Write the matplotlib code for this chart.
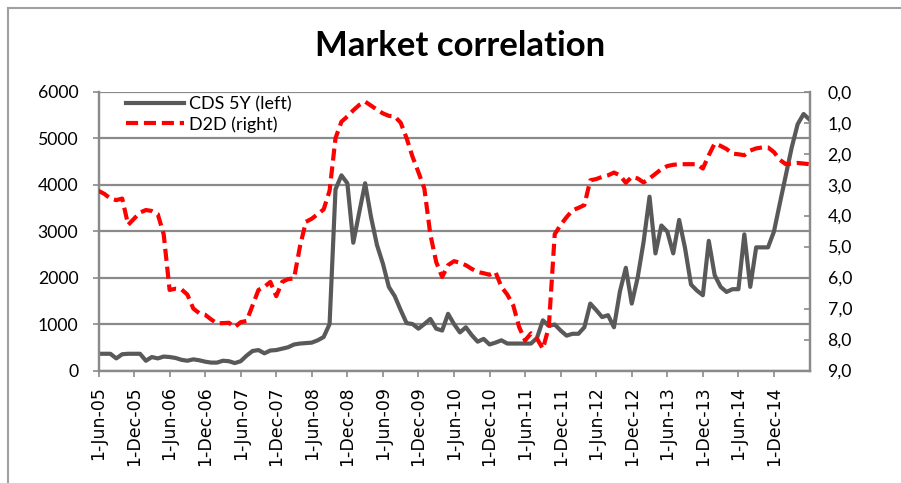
import matplotlib
matplotlib.use("Agg")
import matplotlib.pyplot as plt
import matplotlib.transforms as mtransforms
from matplotlib.lines import Line2D
import numpy as np

# ---------------- data ----------------
# monthly observations starting 1-Jun-05 (index 0) through Jun-15 (index 120)
cds_5y = [360, 360, 360, 260, 350, 360, 360, 360, 210, 290,
          260, 300, 290, 270, 230, 210, 240, 220, 190, 170,
          170, 210, 200, 160, 200, 320, 420, 440, 370, 430,
          440, 470, 500, 560, 580, 590, 600, 650, 720, 1000,
          3900, 4200, 4030, 2750, 3400, 4030, 3300, 2700, 2300, 1800,
          1600, 1300, 1020, 1000, 900, 1000, 1110, 900, 860, 1220,
          1000, 820, 930, 760, 620, 680, 560, 600, 650, 580,
          580, 580, 580, 580, 700, 1080, 960, 990, 860, 750,
          790, 790, 930, 1440, 1300, 1150, 1190, 930, 1700, 2210,
          1440, 2000, 2770, 3740, 2520, 3120, 2990, 2520, 3240, 2630,
          1850, 1720, 1620, 2790, 2050, 1800, 1690, 1750, 1750, 2930,
          1800, 2650, 2650, 2650, 2990, 3600, 4200, 4800, 5300, 5520,
          5400]

d2d = [3.20, 3.30, 3.45, 3.50, 3.45, 4.30, 4.10, 3.90, 3.82, 3.85,
       3.95, 4.60, 6.40, 6.36, 6.38, 6.55, 7.00, 7.15, 7.20, 7.35,
       7.48, 7.47, 7.46, 7.60, 7.44, 7.40, 6.90, 6.40, 6.30, 6.14,
       6.60, 6.14, 6.05, 6.03, 5.00, 4.20, 4.10, 3.95, 3.80, 3.20,
       1.50, 0.97, 0.80, 0.60, 0.43, 0.32, 0.45, 0.58, 0.70, 0.78,
       0.80, 1.00, 1.50, 2.10, 2.60, 3.13, 4.60, 5.50, 5.98, 5.60,
       5.47, 5.52, 5.60, 5.72, 5.82, 5.86, 5.91, 5.82, 6.30, 6.55,
       6.90, 7.60, 8.03, 7.80, 7.97, 8.30, 7.60, 4.60, 4.30, 4.05,
       3.83, 3.75, 3.66, 2.86, 2.82, 2.75, 2.70, 2.61, 2.70, 2.94,
       2.75, 2.80, 2.93, 2.80, 2.65, 2.50, 2.40, 2.36, 2.34, 2.34,
       2.34, 2.34, 2.48, 2.05, 1.67, 1.75, 1.85, 2.00, 2.02, 2.05,
       1.90, 1.83, 1.80, 1.80, 1.95, 2.20, 2.34, 2.32, 2.30, 2.32,
       2.34]

x_tick_labels = ["1-Jun-05", "1-Dec-05", "1-Jun-06", "1-Dec-06", "1-Jun-07",
                 "1-Dec-07", "1-Jun-08", "1-Dec-08", "1-Jun-09", "1-Dec-09",
                 "1-Jun-10", "1-Dec-10", "1-Jun-11", "1-Dec-11", "1-Jun-12",
                 "1-Dec-12", "1-Jun-13", "1-Dec-13", "1-Jun-14", "1-Dec-14"]
left_ticks = [0, 1000, 2000, 3000, 4000, 5000, 6000]
right_ticks = [0, 1, 2, 3, 4, 5, 6, 7, 8, 9]

title = "Market correlation"
label_cds = "CDS 5Y (left)"
label_d2d = "D2D (right)"

# ---------------- figure ----------------
W, H = 901, 483
fig = plt.figure(figsize=(W / 100, H / 100), dpi=100)
fig.patch.set_facecolor("white")

x0, x1, yt, yb = 98.5, 809.5, 91.7, 370.5
ax = fig.add_axes([x0 / W, (H - yb) / H, (x1 - x0) / W, (yb - yt) / H])
ax2 = ax.twinx()

grey = "#8a8a8a"
months = np.arange(len(cds_5y))

l1, = ax.plot(months, cds_5y, color="#595959", lw=3.0, solid_joinstyle="round",
              zorder=3)
l2, = ax2.plot(np.arange(len(d2d)), d2d, color="#ff0000", lw=3.0,
               dash_capstyle="butt", zorder=3)
l2.set_dashes((2.9, 1.4))

ax.set_xlim(0, 120)
ax.set_ylim(0, 6000)
ax2.set_ylim(9, 0)

ax.set_yticks(left_ticks)
ax.set_yticklabels([str(v) for v in left_ticks])
ax2.set_yticks(right_ticks)
ax2.set_yticklabels([f"{v:.1f}".replace(".", ",") for v in right_ticks])

ax.set_xticks(np.arange(len(x_tick_labels)) * 6)
ax.set_xticklabels(x_tick_labels, rotation=90, family="DejaVu Sans", fontsize=12.5)
offset = mtransforms.ScaledTranslation(0.05, 0, fig.dpi_scale_trans)
for lab in ax.get_xticklabels():
    lab.set_transform(lab.get_transform() + offset)

ax.yaxis.grid(True, color=grey, lw=1.6, zorder=0)
ax.set_axisbelow(True)

for a in (ax, ax2):
    for s in a.spines.values():
        s.set_color(grey)
        s.set_linewidth(1.6)
    a.spines["top"].set_visible(False)

ax.tick_params(axis="y", direction="out", length=4.5, width=1.2, color=grey,
               pad=10, labelsize=12.7, labelfontfamily="Lato")
ax.tick_params(axis="x", direction="out", length=4.5, width=1.2, color=grey,
               pad=7)
ax2.tick_params(axis="y", direction="in", length=4.5, width=1.2, color=grey,
                pad=13, labelsize=12.7, labelfontfamily="Lato")

fig.text(460 / W, 1 - 46 / H, title, ha="center", va="center",
         fontsize=25, fontweight="bold", family="Lato")

leg = ax2.legend([l1, l2], [label_cds, label_d2d], loc="upper left",
                 bbox_to_anchor=((124 - x0) / (x1 - x0), 1 - 3 / (yb - yt)),
                 frameon=False, borderpad=0, borderaxespad=0.1,
                 handlelength=3.2, handletextpad=0.3, labelspacing=0.2,
                 prop={"family": "Lato", "size": 13})

# chart frame (left and top edges visible)
fig.add_artist(Line2D([8 / W, 8 / W], [0, 1 - 8 / H], transform=fig.transFigure,
                      color="#a0a0a0", lw=1.5))
fig.add_artist(Line2D([8 / W, 1], [1 - 8 / H, 1 - 8 / H], transform=fig.transFigure,
                      color="#a0a0a0", lw=1.5))

fig.savefig("out.png", dpi=100, facecolor="white")
